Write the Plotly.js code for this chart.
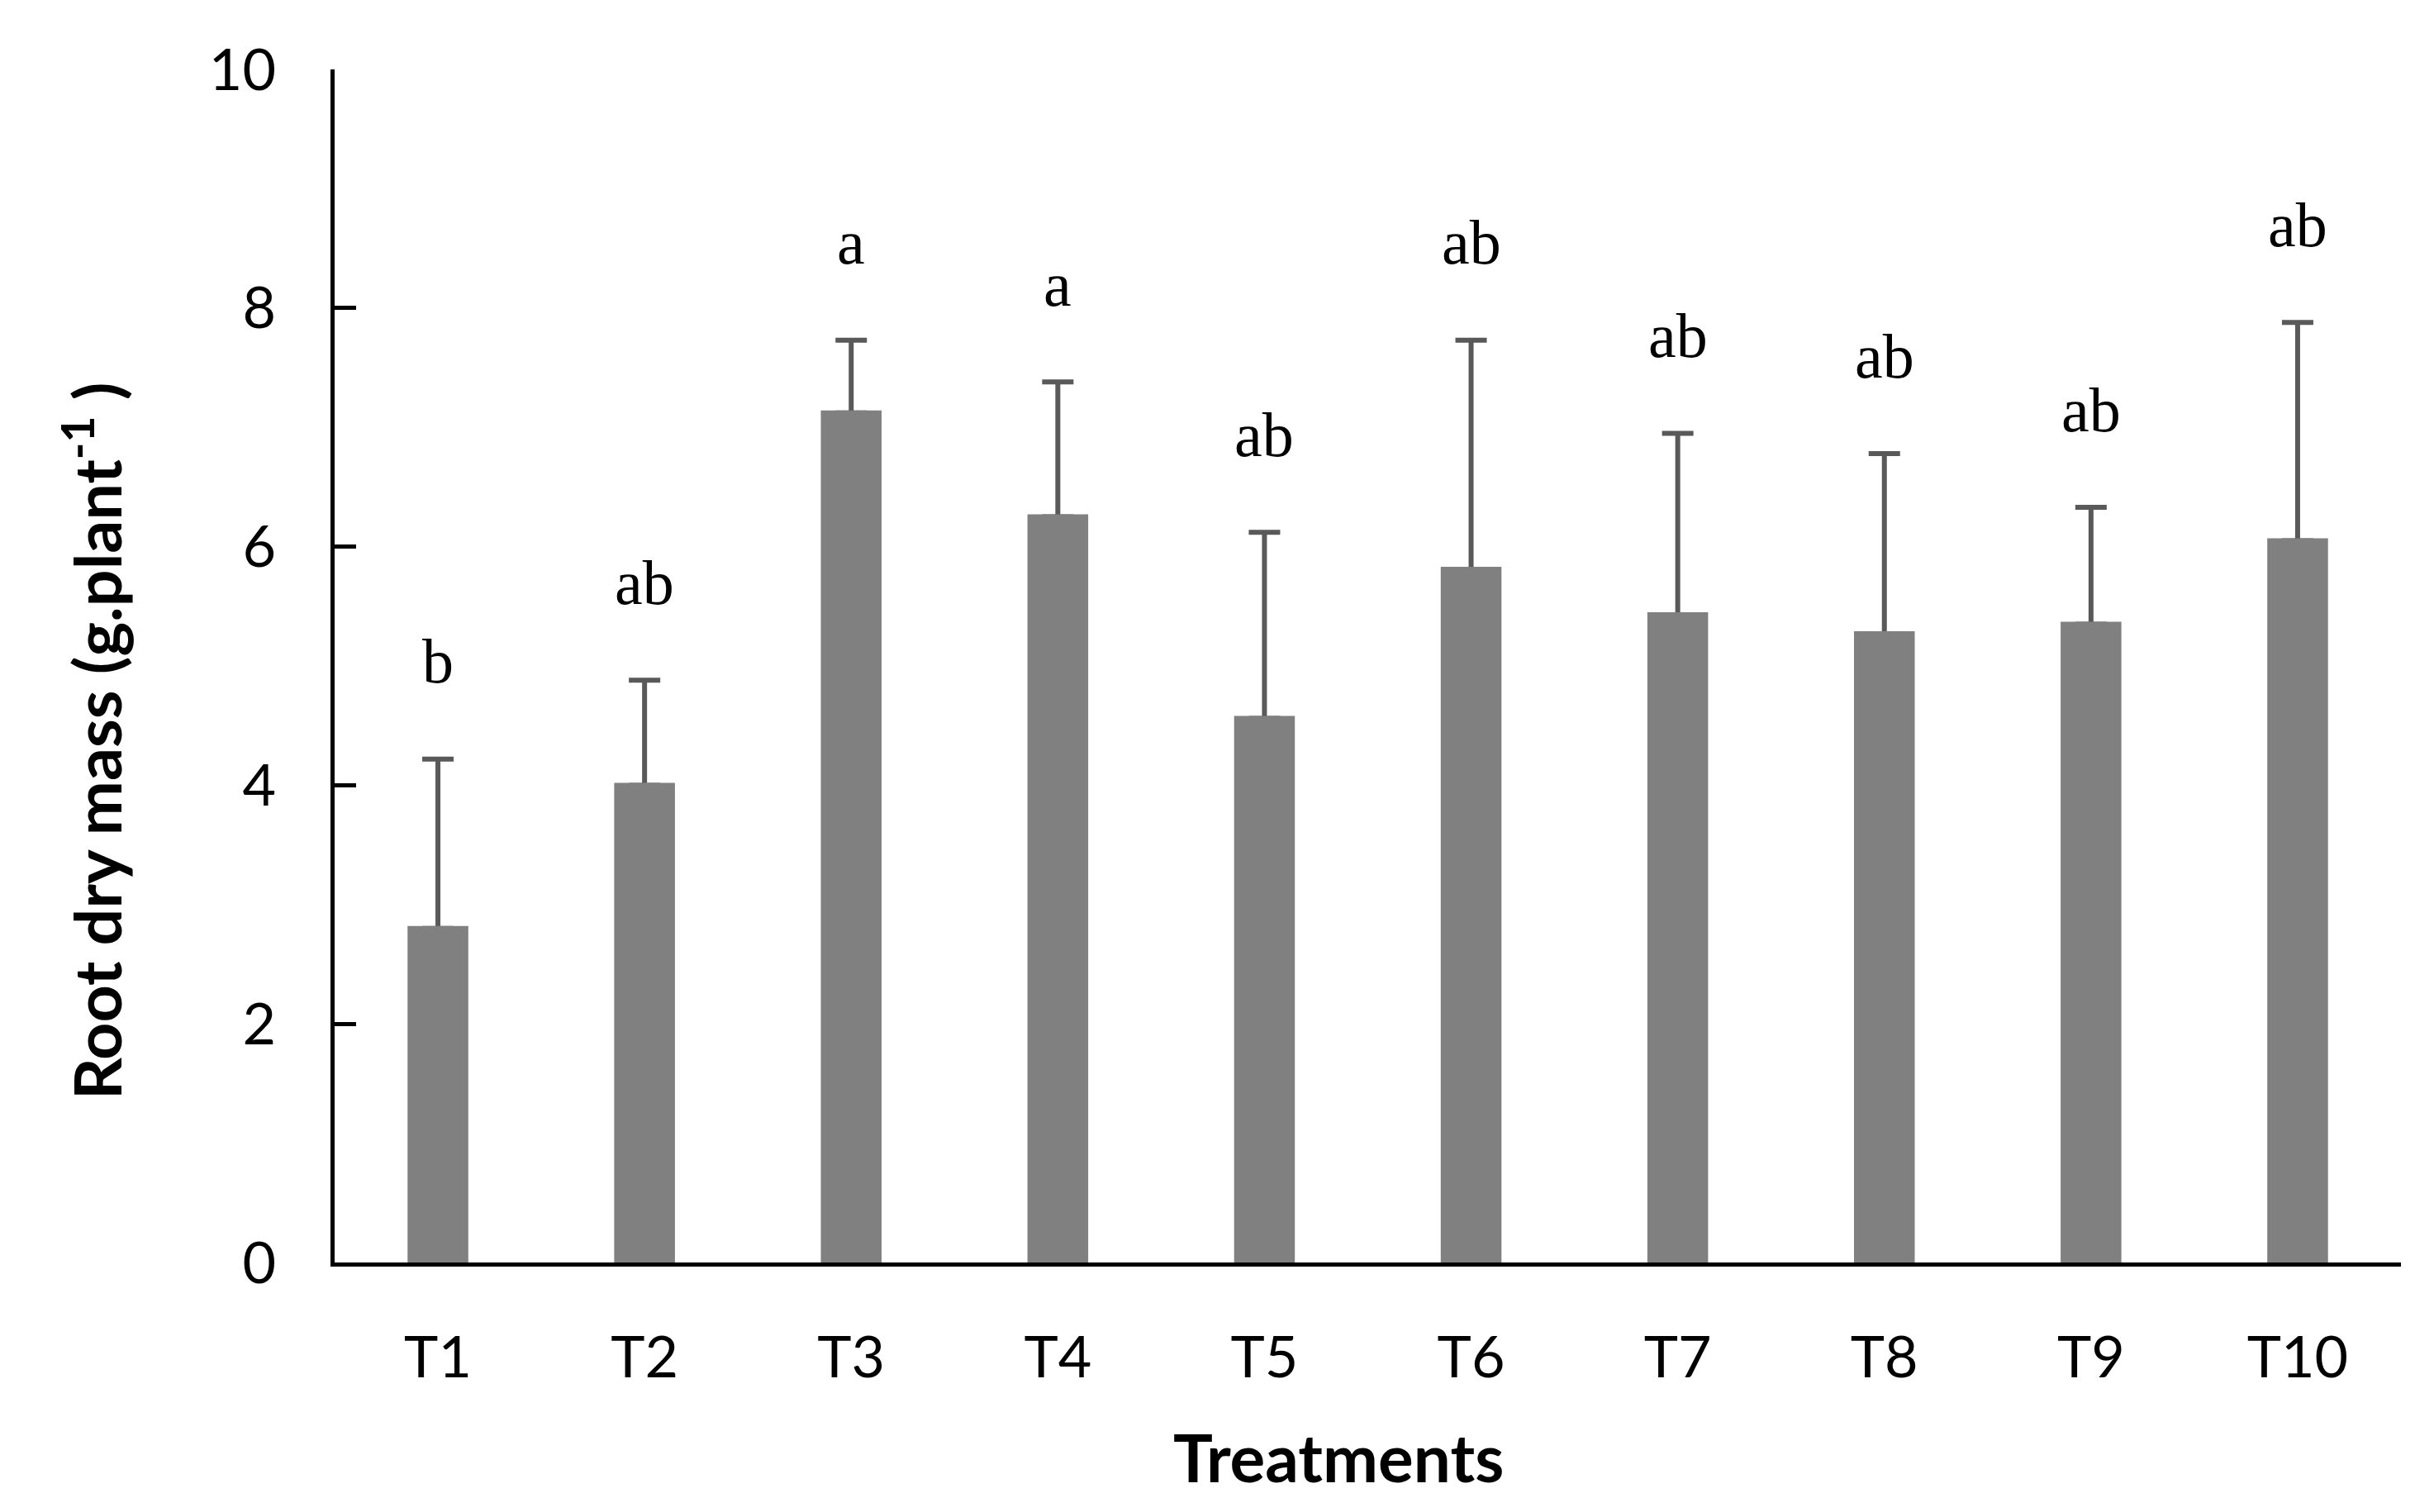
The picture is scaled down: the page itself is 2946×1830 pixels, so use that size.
<!DOCTYPE html>
<html>
<head>
<meta charset="utf-8">
<script src="https://cdn.plot.ly/plotly-3.0.1.min.js"></script>
<style>html,body{margin:0;padding:0;background:#fff;}#chart{width:2946px;height:1830px;}</style>
</head>
<body>
<div id="chart"></div>
<script>
const treatments = ["T1","T2","T3","T4","T5","T6","T7","T8","T9","T10"];
const rootDryMass = [2.80, 4.00, 7.12, 6.25, 4.56, 5.81, 5.43, 5.27, 5.35, 6.05];
const stdError = [1.42, 0.88, 0.61, 1.13, 1.56, 1.92, 1.52, 1.51, 0.98, 1.83];
const letters = ["b","ab","a","a","ab","ab","ab","ab","ab","ab"];
const yTicks = [0, 2, 4, 6, 8, 10];

const barColor = "#808080";
const errColor = "#595959";

const traces = [
  {
    type: "bar", x: treatments, y: rootDryMass, width: 0.27,
    marker: {color: barColor, line: {width: 0}},
    error_y: {type: "data", symmetric: false, array: stdError,
              arrayminus: stdError.map(() => 0), color: errColor, thickness: 6, width: 19},
    hoverinfo: "skip", showlegend: false
  },
  {
    type: "bar", x: treatments, y: rootDryMass, width: 0.27,
    marker: {color: barColor, line: {width: 6, color: barColor}},
    hoverinfo: "skip", showlegend: false
  }
];

const annotations = treatments.map((t, i) => ({
  x: t, y: rootDryMass[i] + stdError[i] + 0.82, xref: "x", yref: "y",
  text: letters[i], showarrow: false, yanchor: "middle",
  font: {family: "Liberation Serif, Times New Roman, serif", size: 76, color: "#000"}
}));
annotations.push({
  xref: "paper", yref: "paper", x: -0.1171, y: 0.437, textangle: -90,
  text: "Root dry mass (g.plant<sup>-1</sup> )", showarrow: false,
  xanchor: "center", yanchor: "middle",
  font: {family: "Lato, sans-serif", size: 79, color: "#000", weight: "bold"}
});
annotations.push({
  xref: "paper", yref: "paper", x: 0.486, y: -0.163,
  text: "Treatments", showarrow: false, xanchor: "center", yanchor: "middle",
  font: {family: "Lato, sans-serif", size: 80, color: "#000", weight: "bold"}
});

const layout = {
  width: 2946, height: 1830,
  paper_bgcolor: "#fff", plot_bgcolor: "#fff",
  margin: {l: 405, r: 40, t: 84, b: 302},
  barmode: "overlay",
  showlegend: false,
  xaxis: {
    type: "category", range: [-0.5, 9.5],
    showline: true, linecolor: "#000", linewidth: 5,
    ticks: "", showgrid: false, zeroline: false,
    tickfont: {family: "Lato, sans-serif", size: 70, color: "#000"},
    ticklabelstandoff: 50
  },
  yaxis: {
    range: [0, 10], tickvals: yTicks, ticktext: yTicks.map(String),
    showline: true, linecolor: "#000", linewidth: 5,
    ticks: "inside", ticklen: 26, tickwidth: 5, tickcolor: "#000",
    showgrid: false, zeroline: false,
    tickfont: {family: "Lato, sans-serif", size: 70, color: "#000"},
    ticklabelstandoff: 52
  },
  annotations: annotations
};

Plotly.newPlot("chart", traces, layout, {staticPlot: true, displayModeBar: false});
</script>
</body>
</html>
